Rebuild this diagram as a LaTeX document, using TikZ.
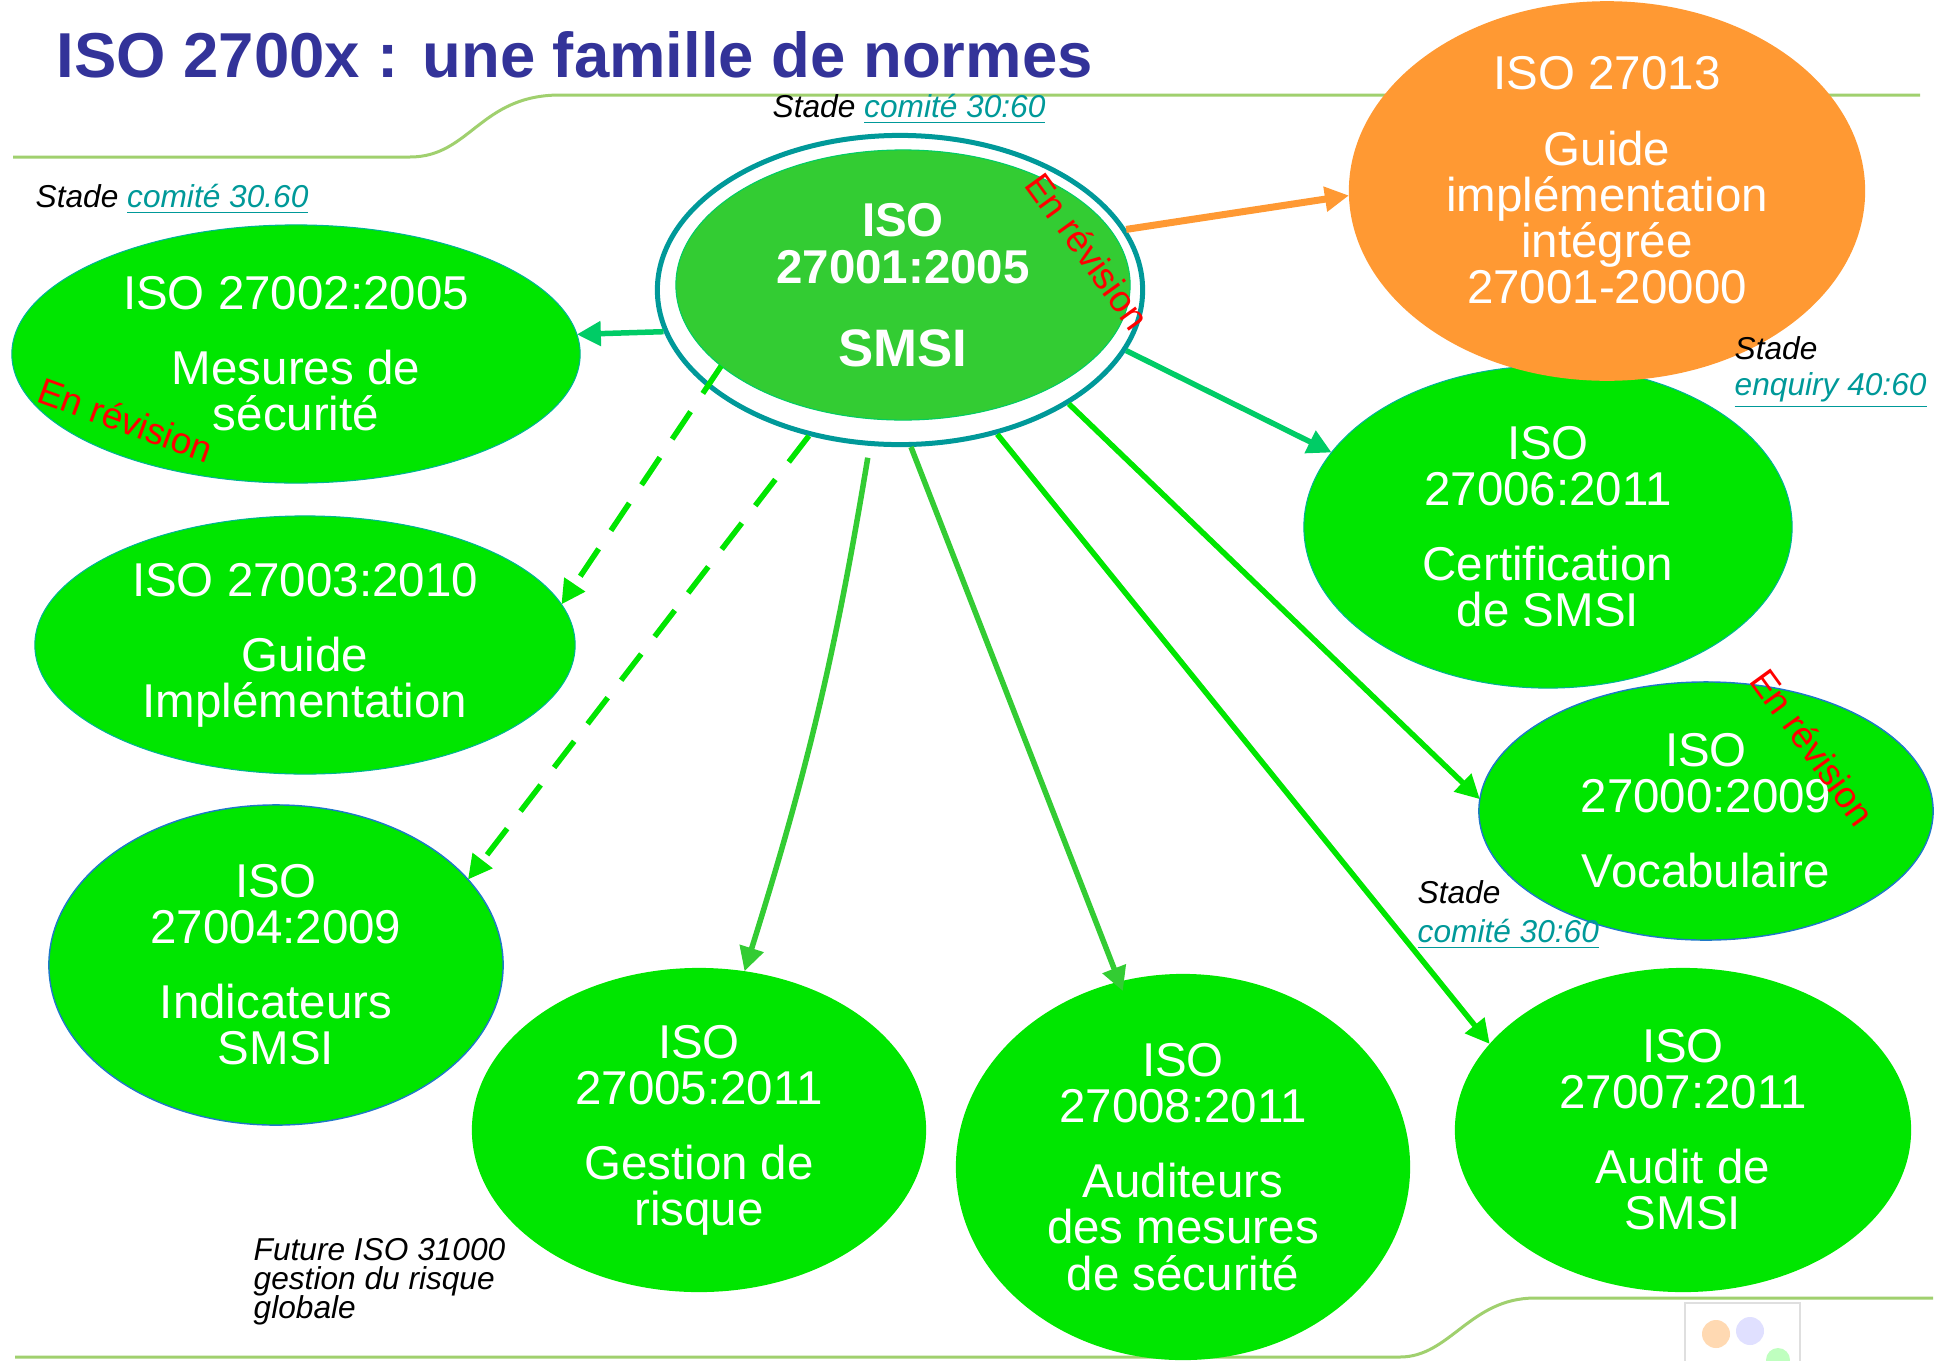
\documentclass[tikz,border=0pt]{standalone}
\usepackage{fontspec}
\setmainfont{Liberation Sans}
\usetikzlibrary{arrows.meta,shapes.geometric}
\definecolor{vert}{RGB}{0,230,0}
\definecolor{vertclair}{RGB}{51,204,51}
\definecolor{vertbleu}{RGB}{0,204,102}
\definecolor{sarcelle}{RGB}{0,153,153}
\definecolor{orangeiso}{RGB}{255,153,51}
\definecolor{titre}{RGB}{51,51,153}
\definecolor{deco}{RGB}{160,208,110}
\definecolor{bordbleu}{RGB}{30,120,200}
\definecolor{bordvert}{RGB}{0,180,150}
\begin{document}
\begin{tikzpicture}[
        x=0.01cm, y=-0.01cm,
        norme/.style={ellipse, fill=vert, text=white, inner sep=0pt, outer sep=0pt, align=center,
            font=\fontsize{13.5}{13.1}\selectfont},
        stade/.style={inner sep=0pt, anchor=base west, font={\fontsize{9}{8.2}\selectfont\lineskiplimit=-10pt\relax\itshape}},
        lien/.style={text=sarcelle},
        revision/.style={text=red, inner sep=0pt, font=\fontsize{10.5}{10.5}\selectfont},
        fleche/.style={line width=0.055cm, -{Triangle[length=0.24cm, width=0.24cm]}},
        pointille/.style={fleche, dash pattern=on 0.33cm off 0.22cm},
    ]
    \useasboundingbox (0,0) rectangle (1939,1360);
    \draw[deco, line width=0.03cm] (13,157) -- (410,157) .. controls (470,157) and (480,95) .. (560,95) -- (1920,95);
    \draw[deco, line width=0.03cm] (15,1357) -- (1400,1357) .. controls (1450,1357) and (1470,1298) .. (1535,1298) -- (1933,1298);
    \draw[gray!25, line width=0.02cm] (1685,1365) |- (1800,1303) -- (1800,1365);
    \fill[orange!30] (1716,1334) circle (0.14cm);
    \fill[blue!12] (1750,1331) circle (0.14cm);
    \fill[green!25] (1778,1360) circle (0.12cm);
    \node[anchor=base west, inner sep=0pt, text=titre, font=\bfseries\fontsize{18.05}{20}\selectfont] (titre) at (56,77) {ISO 2700x : une famille de normes};
    \node[ellipse, draw=sarcelle, line width=0.05cm, minimum width=4.85cm, minimum height=3.09cm] (anneau) at (900,290) {};
    \node[norme, fill=vertclair, draw=vertbleu, line width=0.3pt, minimum width=4.54cm, minimum height=2.70cm,
        font=\bfseries\fontsize{13.5}{13.4}\selectfont] (smsi) at (903,285) {ISO\\27001:2005\\[0.36cm]{\fontsize{15}{15}\selectfont SMSI}};
    \node[norme, draw=bordvert, line width=0.3pt, minimum width=5.68cm, minimum height=2.58cm] (iso2) at (296,354) {ISO 27002:2005\\[0.29cm]Mesures de\\sécurité};
    \node[norme, draw=bordvert, line width=0.3pt, minimum width=5.40cm, minimum height=2.58cm] (iso3) at (305,645) {ISO 27003:2010\\[0.29cm]Guide\\Implémentation};
    \node[norme, draw=bordbleu, line width=0.4pt, minimum width=4.54cm, minimum height=3.20cm] (iso4) at (276,965) {ISO\\27004:2009\\[0.29cm]Indicateurs\\SMSI};
    \node[norme, minimum width=4.54cm, minimum height=3.24cm] (iso5) at (699,1130) {ISO\\27005:2011\\[0.29cm]Gestion de\\risque};
    \node[norme, minimum width=4.54cm, minimum height=3.86cm] (iso8) at (1183,1167) {ISO\\27008:2011\\[0.29cm]Auditeurs\\des mesures\\de sécurité};
    \node[norme, minimum width=4.56cm, minimum height=3.24cm] (iso7) at (1683,1130) {ISO\\27007:2011\\[0.29cm]Audit de\\SMSI};
    \node[norme, draw=bordbleu, line width=0.4pt, minimum width=4.54cm, minimum height=2.58cm] (iso0) at (1706,811) {ISO\\27000:2009\\[0.29cm]Vocabulaire};
    \node[norme, draw=bordvert, line width=0.3pt, minimum width=4.88cm, minimum height=3.22cm] (iso6) at (1548,527) {ISO\\27006:2011\\[0.29cm]Certification\\de SMSI};
    \node[norme, fill=orangeiso, minimum width=5.16cm, minimum height=3.72cm, text depth=0.22cm] (iso13) at (1607,191) {ISO 27013\\[0.29cm]Guide\\implémentation\\intégrée\\27001-20000};
    \draw[fleche, vertbleu] (anneau.190) -- (iso2.4);
    \draw[pointille, vert] (smsi.204) -- (iso3.9);
    \draw[pointille, vert] (anneau.238) -- (iso4.24);
    \draw[fleche, vertclair, shorten <=0.12cm] (anneau.259) to[bend left=4] (iso5.74);
    \draw[fleche, vertclair, shorten >=-0.1cm] (anneau.274) -- (iso8.109);
    \draw[fleche, vert] (anneau.304) -- (iso7.156);
    \draw[fleche, vert] (anneau.326) -- (iso0.177);
    \draw[fleche, vertbleu] (anneau.345) -- (iso6.161);
    \draw[fleche, orangeiso, line width=0.07cm] (anneau.15) -- (iso13.181);
    \node[stade] (stade1) at (772,117) {Stade \textcolor{sarcelle}{\underline{comité 30:60}}};
    \node[stade] (stade2) at (35,207) {Stade \textcolor{sarcelle}{\underline{comité 30.60}}};
    \node[stade] (stade3) at (1734,359) {Stade};
    \node[stade, lien] (stade3b) at (1734,395) {\underline{enquiry 40:60}};
    \node[stade] (stade4) at (1417,903) {Stade};
    \node[stade, lien] (stade4b) at (1417,942) {\underline{comité 30:60}};
    \node[stade, align=left] (future) at (253,1318) {Future ISO 31000\\gestion du risque\\globale};
    \node[revision, rotate=-54] (rev1) at (1088,251) {En révision};
    \node[revision, rotate=-20] (rev2) at (126,420) {En révision};
    \node[revision, rotate=-54] (rev3) at (1813,747) {En révision};
\end{tikzpicture}
\end{document}
